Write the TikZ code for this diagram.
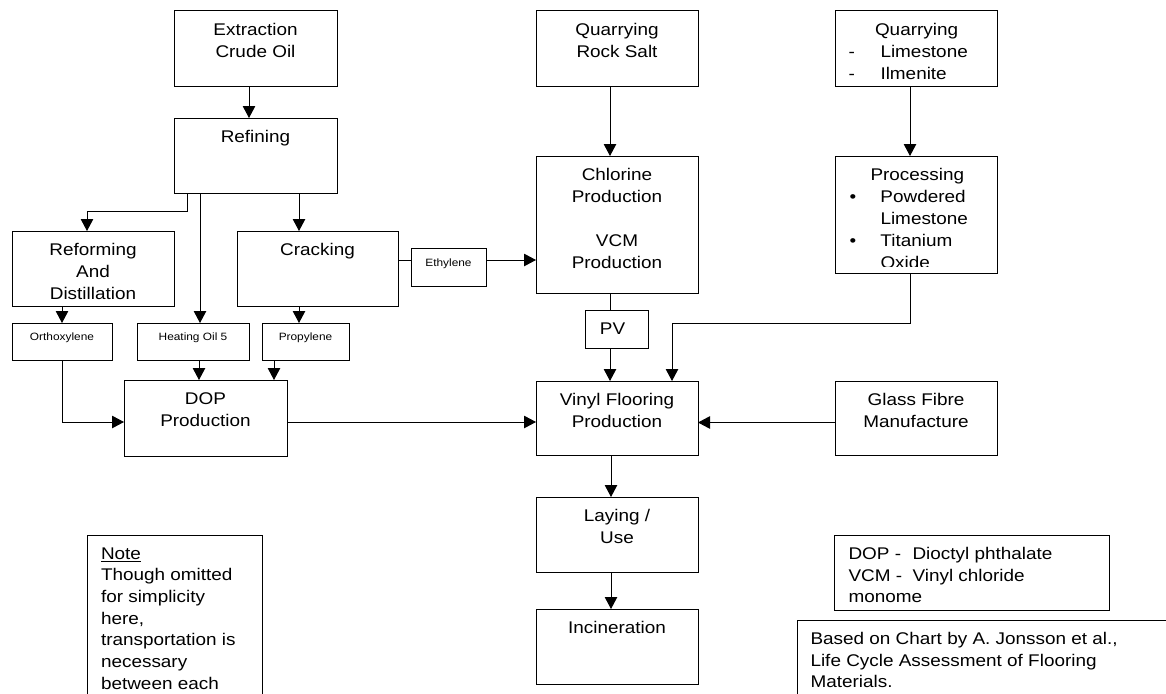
\documentclass[tikz,border=0pt]{standalone}
\usepackage{fontspec}
\setmainfont{Liberation Sans}[FakeStretch=1.12]
\usetikzlibrary{arrows.meta}

\newcommand\bigtxt{\fontsize{16.9}{22}\selectfont}
\newcommand\tinytxt{\fontsize{10.6}{13}\selectfont}
\newcommand\keytxt{\fontsize{16.9}{21.5}\selectfont}

\begin{document}
\begin{tikzpicture}[x=1pt,y=-1pt,>={Triangle[length=12pt,width=12.5pt]},line width=1pt,
  box/.style={draw, anchor=north west, inner sep=0pt, outer sep=0pt, minimum width=162pt, minimum height=75pt},
  small box/.style={box, minimum height=37pt},
  txt/.style={anchor=north, align=center, inner sep=0pt, yshift=-12pt, font=\bigtxt},
  tiny txt/.style={anchor=north, align=center, inner sep=0pt, yshift=-9pt, font=\tinytxt},
  list txt/.style={anchor=north west, align=left, inner sep=0pt, font=\keytxt}]

    \clip (0,0) rectangle (1166,693);
    \fill[white] (0,0) rectangle (1166,693);

    % oil branch
    \node[box, minimum width=163pt, label={[txt]north:Extraction\\Crude Oil}] (extr) at (174,11) {};
    \node[box, minimum width=163pt, label={[txt]north:Refining}] (refin) at (174,118) {};
    \node[box, label={[txt]north:Reforming\\And\\Distillation}] (reform) at (12,231) {};
    \node[box, minimum width=161pt, label={[txt]north:Cracking}] (crack) at (237,231) {};
    \node[small box, minimum width=100pt, label={[tiny txt]north:Orthoxylene}] (ortho) at (12,323) {};
    \node[small box, minimum width=112pt, label={[tiny txt]north:Heating Oil 5}] (heat) at (137,323) {};
    \node[small box, minimum width=87pt, label={[tiny txt]north:Propylene}] (propyl) at (262,323) {};
    \node[small box, minimum width=75pt, minimum height=38pt, label={[tiny txt, yshift=-1pt]north:Ethylene}] (ethyl) at (411,248) {};
    \node[box, minimum width=163pt, minimum height=76pt, label={[txt]north:DOP\\Production}] (dop) at (124,380) {};

    % salt branch
    \node[box, label={[txt]north:Quarrying\\Rock Salt}] (salt) at (536,11) {};
    \node[box, minimum height=137pt, label={[txt]north:{Chlorine\\Production\\[22pt]VCM\\Production}}] (chlor) at (536,156) {};
    \node[box, minimum width=63pt, minimum height=38pt, label={[txt, xshift=-4pt]north:PV}] (pv) at (585,310) {};
    \node[box, minimum height=74pt, label={[txt]north:Vinyl Flooring\\Production}] (vinyl) at (536,381) {};
    \node[box, label={[txt]north:Laying /\\Use}] (lay) at (536,497) {};
    \node[box, label={[txt]north:Incineration}] (incin) at (536,609) {};

    % limestone branch
    \node[box] (quarry) at (835,11) {};
    \node[list txt, font=\bigtxt] (quarry-t) at ([xshift=13pt,yshift=-12pt]quarry.north west)
        {\hspace*{26.5pt}Quarrying\\\makebox[32pt][l]{-}Limestone\\\makebox[32pt][l]{-}Ilmenite};
    \node[box, minimum height=117pt] (proc) at (835,156) {};
    \begin{scope}
        \clip (proc.north west) rectangle ([yshift=7pt]proc.south east);
        \node[list txt, font=\bigtxt] (proc-t) at ([xshift=14pt,yshift=-12pt]proc.north west)
            {\hspace*{21pt}Processing\\\makebox[31pt][l]{\textbullet}Powdered\\\hspace*{31pt}Limestone\\\makebox[31pt][l]{\textbullet}Titanium\\\hspace*{31pt}Oxide};
    \end{scope}
    \node[box, minimum height=74pt, label={[txt]north:Glass Fibre\\Manufacture}] (glass) at (835,381) {};

    % notes
    \node[box, minimum width=175pt, minimum height=200pt] (note) at (87,535) {};
    \node[list txt, font=\fontsize{16.9}{21.7}\selectfont] (note-t) at ([xshift=13.5pt,yshift=-12pt]note.north west)
        {\underline{Note}\\Though omitted\\for simplicity\\here,\\transportation is\\necessary\\between each};
    \node[box, minimum width=275pt] (key) at (834,535) {};
    \node[list txt] (key-t) at ([xshift=14pt,yshift=-12pt]key.north west)
        {\makebox[64pt][l]{DOP -}Dioctyl phthalate\\\makebox[64pt][l]{VCM -}Vinyl chloride\\monome};
    \node[box, minimum width=420pt, minimum height=120pt] (src) at (797,620) {};
    \node[list txt] (src-t) at ([xshift=13pt,yshift=-12pt]src.north west)
        {Based on Chart by A. Jonsson et al.,\\Life Cycle Assessment of Flooring\\Materials.};

    % connectors
    \draw[->] ([xshift=-6.5pt]extr.south) -- ([xshift=-6.5pt]refin.north);
    \draw[->] ([xshift=-68.5pt]refin.south) -- ++(0,18) -| ([xshift=-6pt]reform.north);
    \draw[->] ([xshift=-55.5pt]refin.south) -- ([xshift=7pt]heat.north);
    \draw[->] ([xshift=43.5pt]refin.south) -- ([xshift=-18.5pt]crack.north);
    \draw[->] ([xshift=-31pt]reform.south) -- (ortho.north);
    \draw[->] ([xshift=-18.5pt]crack.south) -- ([xshift=-6.5pt]propyl.north);
    \draw[->] ([xshift=6pt]heat.south) -- ([xshift=-6.5pt]dop.north);
    \draw[->] ([xshift=-31.5pt]propyl.south) -- ([xshift=68.5pt]dop.north);
    \draw[->] (ortho.south) |- ([yshift=-4pt]dop.west);
    \draw[->] ([yshift=-4pt]dop.east) -- ([yshift=-4pt]vinyl.west);
    \draw ([yshift=8.5pt]crack.east) -- ([yshift=7pt]ethyl.west);
    \draw[->] ([yshift=7pt]ethyl.east) -- ([yshift=-35.5pt]chlor.west);
    \draw[->] ([xshift=-7pt]salt.south) -- ([xshift=-7pt]chlor.north);
    \draw ([xshift=-7pt]chlor.south) -- ([xshift=-6.5pt]pv.north);
    \draw[->] ([xshift=-6.5pt]pv.south) -- ([xshift=-7pt]vinyl.north);
    \draw[->] ([xshift=-6pt]quarry.south) -- ([xshift=-6pt]proc.north);
    \draw[->] ([xshift=-6pt]proc.south) -- ++(0,50) -| ([xshift=55pt]vinyl.north);
    \draw[->] ([yshift=-4.5pt]glass.west) -- ([yshift=-4.5pt]vinyl.east);
    \draw[->] ([xshift=-6pt]vinyl.south) -- ([xshift=-6pt]lay.north);
    \draw[->] ([xshift=-6pt]lay.south) -- ([xshift=-6pt]incin.north);

\end{tikzpicture}
\end{document}
